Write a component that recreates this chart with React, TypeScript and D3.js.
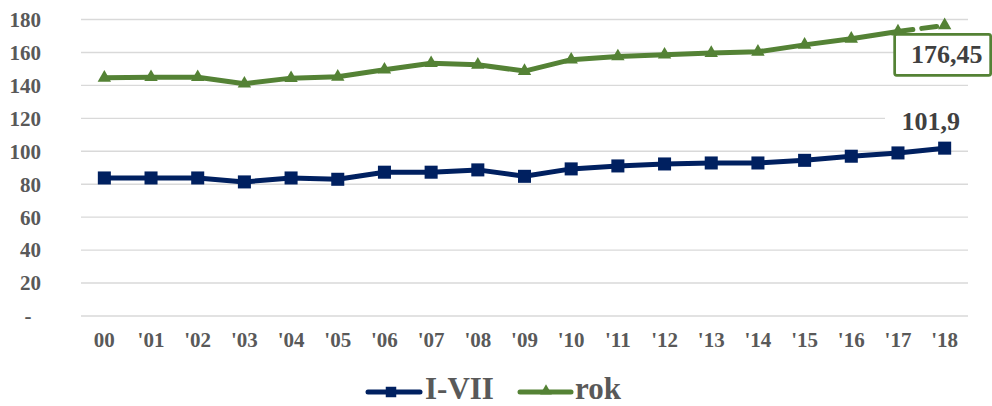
import React from "react";
import * as d3 from "d3";

const categories = ["00", "'01", "'02", "'03", "'04", "'05", "'06", "'07", "'08", "'09", "'10", "'11", "'12", "'13", "'14", "'15", "'16", "'17", "'18"];
const seriesIVII = [83.8, 83.8, 83.8, 81.4, 83.8, 83.0, 87.3, 87.3, 88.7, 84.8, 89.3, 91.1, 92.3, 92.9, 92.9, 94.5, 97.0, 99.0, 101.9];
const seriesRok = [144.6, 145.0, 145.0, 141.0, 144.4, 145.2, 149.5, 153.5, 152.5, 148.7, 155.6, 157.6, 158.6, 159.6, 160.4, 164.6, 168.3, 172.7, 176.45];
const yTicks = [0, 20, 40, 60, 80, 100, 120, 140, 160, 180];
const yTickLabels = ["-", "20", "40", "60", "80", "100", "120", "140", "160", "180"];
const seriesNames = ["I-VII", "rok"];
const labelIVII = "101,9";
const labelRok = "176,45";

const W = 992, H = 406;
const BLUE = "#002060", GREEN = "#548235", TXT = "#595959", LBL = "#404040";
const FONT = "Liberation Serif";
const fs = { fontFamily: FONT };

export default function App() {
  const x = d3.scaleBand<string>().domain(categories).range([81, 968]).padding(0);
  const cx = (c: string) => (x(c) as number) + x.bandwidth() / 2;
  const y = d3.scaleLinear().domain([0, 180]).range([316, 19.5]);

  const line = d3.line<[number, number]>().x(d => d[0]).y(d => d[1]);
  const bluePts: [number, number][] = categories.map((c, i) => [cx(c), y(seriesIVII[i])]);
  const greenPts: [number, number][] = categories.map((c, i) => [cx(c), y(seriesRok[i])]);
  const greenSolid = greenPts.slice(0, greenPts.length - 1);
  const greenDash = greenPts.slice(greenPts.length - 2);

  const sq = d3.symbol().type(d3.symbolSquare).size(170)();
  const tri = d3.symbol().type(d3.symbolTriangle).size(78)();
  const sqL = d3.symbol().type(d3.symbolSquare).size(110)();
  const triL = d3.symbol().type(d3.symbolTriangle).size(60)();

  const lastX = cx(categories[categories.length - 1]);
  const lastBlueY = y(seriesIVII[seriesIVII.length - 1]);
  const lastGreenY = y(seriesRok[seriesRok.length - 1]);

  return (
    <div style={{ position: "absolute", left: 0, top: 0 }}>
      <svg width={W} height={H} style={{ display: "block", background: "#fff" }}>
        {yTicks.map((t, i) => (
          <g key={t}>
            <line x1={81} x2={968} y1={y(t)} y2={y(t)} stroke="#d9d9d9" strokeWidth={1.4} />
            <text
              x={yTickLabels[i] === "-" ? 28 : 41}
              y={y(t)}
              dy="0.35em"
              textAnchor={yTickLabels[i] === "-" ? "middle" : "end"}
              fontSize={21}
              fontWeight="bold"
              fill={TXT}
              style={fs}
            >{yTickLabels[i]}</text>
          </g>
        ))}
        {categories.map(c => (
          <text key={c} x={cx(c)} y={347} textAnchor="middle" fontSize={21} fontWeight="bold" fill={TXT} style={fs}>{c}</text>
        ))}

        <path d={line(bluePts) as string} fill="none" stroke={BLUE} strokeWidth={5} strokeLinejoin="round" />
        {bluePts.map((p, i) => (
          <path key={i} d={sq as string} transform={`translate(${p[0]},${p[1]})`} fill={BLUE} />
        ))}

        <path d={line(greenSolid) as string} fill="none" stroke={GREEN} strokeWidth={5} strokeLinejoin="round" />
        <path d={line(greenDash) as string} fill="none" stroke={GREEN} strokeWidth={5} strokeDasharray="15 9" strokeLinecap="round" />
        {greenPts.map((p, i) => (
          <path key={i} d={tri as string} transform={`translate(${p[0]},${p[1]})`} fill={GREEN} />
        ))}

        {/* data label for I-VII */}
        <rect x={885} y={106} width={83} height={30} fill="#fff" />
        <text x={lastX - 14} y={lastBlueY - 18} textAnchor="middle" fontSize={26} fontWeight="bold" fill={LBL} style={fs}>{labelIVII}</text>

        {/* data label for rok */}
        <rect x={lastX - 50} y={lastGreenY + 9} width={96} height={41} rx={2} fill="#fff" stroke={GREEN} strokeWidth={2.7} />
        <text x={lastX + 2} y={lastGreenY + 38} textAnchor="middle" fontSize={26} fontWeight="bold" fill={LBL} style={fs}>{labelRok}</text>

        {/* legend */}
        <g>
          <line x1={368} x2={420} y1={392} y2={392} stroke={BLUE} strokeWidth={5} strokeLinecap="round" />
          <path d={sqL as string} transform="translate(391,392)" fill={BLUE} />
          <text x={425} y={399} fontSize={31} fontWeight="bold" fill={TXT} style={fs}>{seriesNames[0]}</text>
          <line x1={520} x2={571} y1={392} y2={392} stroke={GREEN} strokeWidth={5} strokeLinecap="round" />
          <path d={triL as string} transform="translate(546,391)" fill={GREEN} />
          <text x={575} y={399} fontSize={31} fontWeight="bold" fill={TXT} style={fs}>{seriesNames[1]}</text>
        </g>
      </svg>
    </div>
  );
}
